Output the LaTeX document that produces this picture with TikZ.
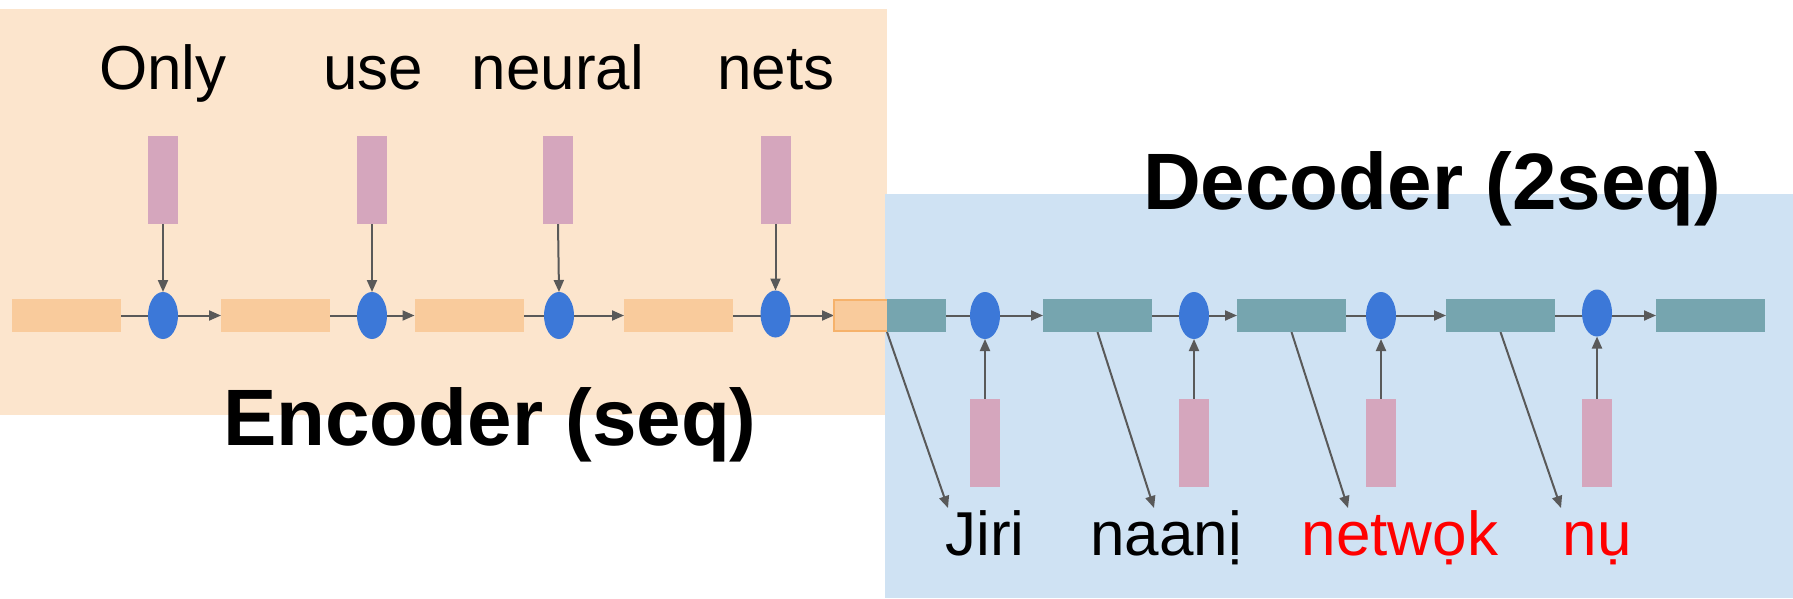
\documentclass[tikz,border=0pt]{standalone}
\usepackage{fontspec}
\setmainfont{Liberation Sans}
\usetikzlibrary{arrows.meta,shapes.geometric}
\definecolor{encbg}{HTML}{FCE5CD}
\definecolor{decbg}{HTML}{CFE2F3}
\definecolor{encst}{HTML}{F9CB9C}
\definecolor{decst}{HTML}{76A5AF}
\definecolor{emb}{HTML}{D5A6BD}
\definecolor{cell}{HTML}{3C78D8}
\definecolor{arr}{HTML}{595959}
\definecolor{encedge}{HTML}{F6B26B}
\definecolor{redword}{HTML}{FF0000}
\pgfdeclarelayer{back}
\pgfdeclarelayer{mid}
\pgfsetlayers{back,mid,main}
\begin{document}
\begin{tikzpicture}[x=1pt,y=-1pt,
  state/.style={rectangle,minimum height=33pt,inner sep=0pt,outer sep=0pt},
  encstate/.style={state,fill=encst,minimum width=109pt},
  decstate/.style={state,fill=decst,minimum width=109pt},
  embed/.style={rectangle,fill=emb,minimum width=30pt,minimum height=88pt,inner sep=0pt,outer sep=0pt},
  rnn/.style={ellipse,fill=cell,minimum width=30pt,minimum height=47pt,inner sep=0pt,outer sep=0pt},
  conn/.style={draw=arr,line width=2pt,-{Triangle[length=12pt,width=10pt]}},
  word/.style={font=\fontsize{62}{70}\selectfont,anchor=base,inner sep=0pt},
  title/.style={font=\fontsize{80}{90}\selectfont\bfseries,anchor=base west,inner sep=0pt}]
\useasboundingbox (0,0) rectangle (1793,598);

% backgrounds
\begin{pgfonlayer}{back}
\fill[encbg] (0,9) rectangle (887,415);
\fill[decbg] (885,194) rectangle (1793,598);
\end{pgfonlayer}

% encoder states
\node[encstate] (r1) at (66,315.5) {};
\node[encstate] (r2) at (275.5,315.5) {};
\node[encstate] (r3) at (469,315.5) {};
\node[encstate] (r4) at (678.5,315.5) {};
\node[state,fill=encst,draw=encedge,line width=1.5pt,minimum width=54pt,minimum height=31pt] (r5) at (861,315.5) {};

% encoder cells
\node[rnn] (e1) at (163,315.5) {};
\node[rnn] (e2) at (372,315.5) {};
\node[rnn] (e3) at (559,315.5) {};
\node[rnn] (e4) at (775.5,314) {};

% encoder embeddings
\node[embed] (p1) at (163,180) {};
\node[embed] (p2) at (372,180) {};
\node[embed] (p3) at (558,180) {};
\node[embed] (p4) at (775.5,180) {};

% encoder words
\node[word] (w1) at (163,89) {Only};
\node[word] (w2) at (373,89) {use};
\node[word] (w3) at (558,89) {neural};
\node[word] (w4) at (776,89) {nets};

% decoder states
\node[state,fill=decst,minimum width=59pt] (d1) at (916.5,315.5) {};
\node[decstate] (d2) at (1097.5,315.5) {};
\node[decstate] (d3) at (1291.5,315.5) {};
\node[decstate] (d4) at (1500.5,315.5) {};
\node[decstate] (d5) at (1710.5,315.5) {};

% decoder cells
\node[rnn] (f1) at (985,315.5) {};
\node[rnn] (f2) at (1194,315.5) {};
\node[rnn] (f3) at (1381,315.5) {};
\node[rnn] (f4) at (1597,313) {};

% decoder embeddings
\node[embed] (q1) at (985,443) {};
\node[embed] (q2) at (1194,443) {};
\node[embed] (q3) at (1381,443) {};
\node[embed] (q4) at (1597,443) {};

% decoder words
\node[word] (o1) at (985,555) {Jiri};
\node[word] (o2) at (1166,555) {naanị};
\node[word,text=redword] (o3) at (1400,555) {netwọk};
\node[word,text=redword] (o4) at (1597,555) {nụ};

\coordinate (t1) at (948,508);
\coordinate (t2) at (1154,508);
\coordinate (t3) at (1348,508);
\coordinate (t4) at (1561,508);

% titles
\node[title] (enc) at (223,445) {Encoder (seq)};
\node[title] (dec) at (1143,209) {Decoder (2seq)};

% connectors
\begin{pgfonlayer}{mid}
\draw[conn] (r1.east) -- (r2.west);
\draw[conn] (r2.east) -- (r3.west);
\draw[conn] (r3.east) -- (r4.west);
\draw[conn] (r4.east) -- (r5.west);
\draw[conn] (d1.east) -- (d2.west);
\draw[conn] (d2.east) -- (d3.west);
\draw[conn] (d3.east) -- (d4.west);
\draw[conn] (d4.east) -- (d5.west);
\draw[conn] (p1.south) -- (e1.north);
\draw[conn] (p2.south) -- (e2.north);
\draw[conn] (p3.south) -- (e3.north);
\draw[conn] (p4.south) -- (e4.north);
\draw[conn] (q1.north) -- (f1.south);
\draw[conn] (q2.north) -- (f2.south);
\draw[conn] (q3.north) -- (f3.south);
\draw[conn] (q4.north) -- (f4.south);
\draw[conn] (d1.south west) -- (t1);
\draw[conn] (d2.south) -- (t2);
\draw[conn] (d3.south) -- (t3);
\draw[conn] (d4.south) -- (t4);
\end{pgfonlayer}
\end{tikzpicture}
\end{document}
